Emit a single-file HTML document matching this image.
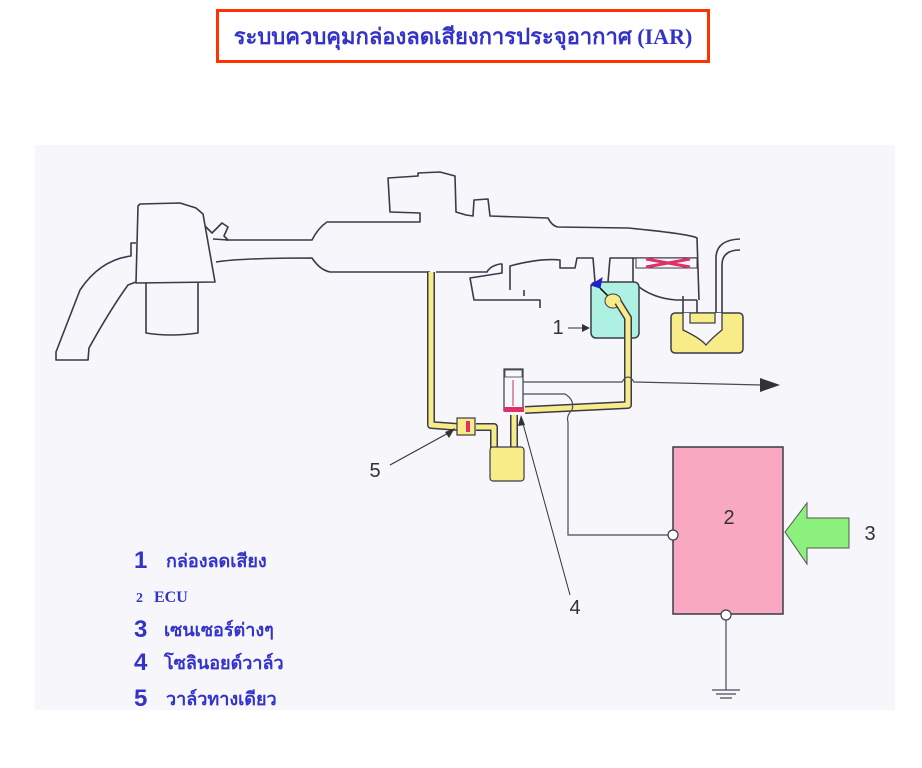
<!DOCTYPE html>
<html><head><meta charset="utf-8"><style>
html,body{margin:0;padding:0;background:#fff;width:922px;height:768px;overflow:hidden}
svg{display:block}
</style></head><body>
<svg width="922" height="768" viewBox="0 0 922 768" xmlns="http://www.w3.org/2000/svg" font-family="Liberation Sans, sans-serif">
<rect x="0" y="0" width="922" height="768" fill="#fff"/>
<rect x="217.5" y="10.5" width="491" height="51" fill="#fff" stroke="#ff3300" stroke-width="3"/>
<text x="463" y="44" text-anchor="middle" font-family="Liberation Serif, serif" font-size="22" font-weight="bold" fill="#3333cc">ระบบควบคุมกล่องลดเสียงการประจุอากาศ (IAR)</text>
<rect x="35" y="145" width="860" height="565" fill="#f6f6fb"/>
<g fill="none" stroke="#3a3a4a" stroke-width="1.6" stroke-linejoin="round">
<!-- air cleaner -->
<path d="M138,206 L140,204 L180,203 L196,208 L203,214 L215,282 L136,283 Z" fill="#f8f8fc"/>
<path d="M146,283 L146,333 Q170,337 198,333 L198,283"/>
<path d="M136,243 L131,243 L131,256 Q100,260 80,290 L56,352 L56,360 L88,360 L89,348 Q110,310 128,285 L136,282"/>
<path d="M205,226 L212,233 L222,223 L228,227 L224,236 L228,240 L213,239"/>
<!-- intake tube -->
<path d="M226,240 L312,240 Q318,228 327,222 L420,222 L420,213 L390,212 L388,178 L418,176 L418,173 L440,172 L455,176 L456,212 L466,215 L473,216 L474,200 L488,199 L490,216 L548,218 Q552,226 558,227 L628,228 Q690,234 697,238 L699,300"/>
<path d="M216,262 Q240,258 312,258 Q320,270 330,272 L430,272"/>
<path d="M436,272 L487,272 Q490,266 500,264 L502,264 L502,273 L470,278 L474,300 L540,300 L540,308 M524,290 L524,296"/>
<path d="M510,290 L510,266 Q540,258 560,260 L560,268 L575,268 L577,258 L593,258 L595,282"/>
<path d="M608,282 L610,258 L632,258 L697,258"/>
<path d="M633,258 L633,282 Q650,298 676,300 L697,300"/>
<path d="M683,296 L683,332 Q700,336 704,340 M697,300 L697,322 L716,322 L716,258 Q716,240 740,239"/>
<path d="M722,322 L722,265 Q722,250 740,250"/>
</g>
<!-- crossed filter -->
<path d="M636,258 L697,258 L697,268 L636,268 Z" fill="#f8f8fc" stroke="#3a3a4a" stroke-width="1"/>
<path d="M646,259 L690,267 M646,267 L690,259" stroke="#e0306a" stroke-width="3"/>
<!-- yellow tank -->
<rect x="671" y="313" width="72" height="40" rx="4" fill="#f8ec88" stroke="#3a3a4a" stroke-width="1.5"/>
<path d="M683,313 L683,330 Q700,338 706,345 Q712,338 722,330 L722,313" fill="#f6f6fb" stroke="#3a3a4a" stroke-width="1.3"/>
<rect x="690" y="313" width="25" height="10" fill="#f8ec88" stroke="#3a3a4a" stroke-width="1.2"/>
<!-- silencer box 1 -->
<rect x="591" y="282" width="48" height="56" rx="5" fill="#aef0e2" stroke="#3a3a4a" stroke-width="1.5"/>
<path d="M591,285 L602,278 L600,288 Z" fill="#2222cc" stroke="#2222cc"/>
<line x1="600" y1="288" x2="612" y2="300" stroke="#000" stroke-width="1.5"/>
<ellipse cx="613" cy="301" rx="8" ry="7" fill="#f8ec88" stroke="#3a3a4a"/>
<!-- yellow pipes -->
<g fill="none" stroke-linejoin="round" stroke-linecap="butt">
<path d="M618,302 L628,318 L628,405 L525,410" stroke="#3a3a4a" stroke-width="8"/>
<path d="M618,302 L628,318 L628,405 L525,410" stroke="#f8ec88" stroke-width="5"/>
<path d="M431,272 L431,425 L458,427 M476,427 L494,427 L494,448 M514,415 L514,448" stroke="#3a3a4a" stroke-width="8"/>
<path d="M431,272 L431,425 L458,427 M476,427 L494,427 L494,448 M514,415 L514,448" stroke="#f8ec88" stroke-width="5"/>
</g>
<!-- valve 5 -->
<rect x="457" y="418" width="18" height="17" fill="#f8ec88" stroke="#3a3a4a" stroke-width="1.2"/>
<rect x="466" y="421" width="4" height="11" fill="#e0306a"/>
<!-- bottle -->
<rect x="490" y="447" width="34" height="34" rx="3" fill="#f8ec88" stroke="#3a3a4a" stroke-width="1.2"/>
<!-- solenoid 4 -->
<rect x="504" y="369" width="19" height="42" fill="#f8f8fc" stroke="#3a3a4a" stroke-width="1.2"/>
<rect x="505" y="370" width="17" height="7" fill="#f8f8fc" stroke="#3a3a4a" stroke-width="0.8"/>
<rect x="504" y="407" width="20" height="5" fill="#e0306a"/>
<line x1="513" y1="380" x2="513" y2="406" stroke="#c03050" stroke-width="1"/>
<!-- control lines -->
<g fill="none" stroke="#4a4a5a" stroke-width="1.2">
<path d="M523,382 L622,382 Q628,372 634,382 L762,385"/>
<path d="M523,394 L565,394 Q575,400 572,410 Q566,416 568,422 L568,535 L669,535"/>
<path d="M726,619 L726,690"/>
<path d="M712,690 L740,690 M716,694 L736,694 M720,698 L732,698"/>
</g>
<path d="M760,378 L780,385 L760,392 Z" fill="#333"/>
<!-- ECU -->
<rect x="673" y="447" width="110" height="167" fill="#f9a8c2" stroke="#3a3a4a" stroke-width="1.5"/>
<circle cx="673" cy="535" r="5" fill="#fff" stroke="#3a3a4a" stroke-width="1.2"/>
<circle cx="726" cy="615" r="5" fill="#fff" stroke="#3a3a4a" stroke-width="1.2"/>
<text x="729" y="524" text-anchor="middle" font-size="20" fill="#333">2</text>
<path d="M785,532 L807,503 L807,518 L849,518 L849,548 L807,548 L807,564 Z" fill="#8cf07c" stroke="#555" stroke-width="1"/>
<text x="870" y="540" text-anchor="middle" font-size="20" fill="#333">3</text>
<!-- labels -->
<text x="558" y="334" text-anchor="middle" font-size="20" fill="#333">1</text>
<line x1="568" y1="328" x2="584" y2="328" stroke="#333" stroke-width="1"/>
<path d="M582,324 L590,328 L582,332 Z" fill="#333"/>
<text x="375" y="477" text-anchor="middle" font-size="20" fill="#333">5</text>
<line x1="390" y1="465" x2="452" y2="431" stroke="#333" stroke-width="1"/>
<path d="M455,428 L445,432 L449,438 Z" fill="#333"/>
<text x="575" y="614" text-anchor="middle" font-size="20" fill="#333">4</text>
<line x1="570" y1="595" x2="522" y2="420" stroke="#333" stroke-width="1"/>
<path d="M521,415 L518,426 L525,425 Z" fill="#333"/>
<!-- legend -->
<g fill="#3333cc" font-weight="bold">
<text x="134" y="568" font-size="24">1</text>
<text x="166" y="567" font-size="18" font-family="Liberation Serif, serif">กล่องลดเสียง</text>
<text x="136" y="602" font-size="14" font-family="Liberation Serif, serif">2</text>
<text x="154" y="602" font-size="16" font-family="Liberation Serif, serif">ECU</text>
<text x="134" y="637" font-size="24">3</text>
<text x="164" y="636" font-size="18" font-family="Liberation Serif, serif">เซนเซอร์ต่างๆ</text>
<text x="134" y="670" font-size="24">4</text>
<text x="164" y="669" font-size="18" font-family="Liberation Serif, serif">โซลินอยด์วาล์ว</text>
<text x="134" y="706" font-size="24">5</text>
<text x="166" y="705" font-size="18" font-family="Liberation Serif, serif">วาล์วทางเดียว</text>
</g>
</svg>
</body></html>
